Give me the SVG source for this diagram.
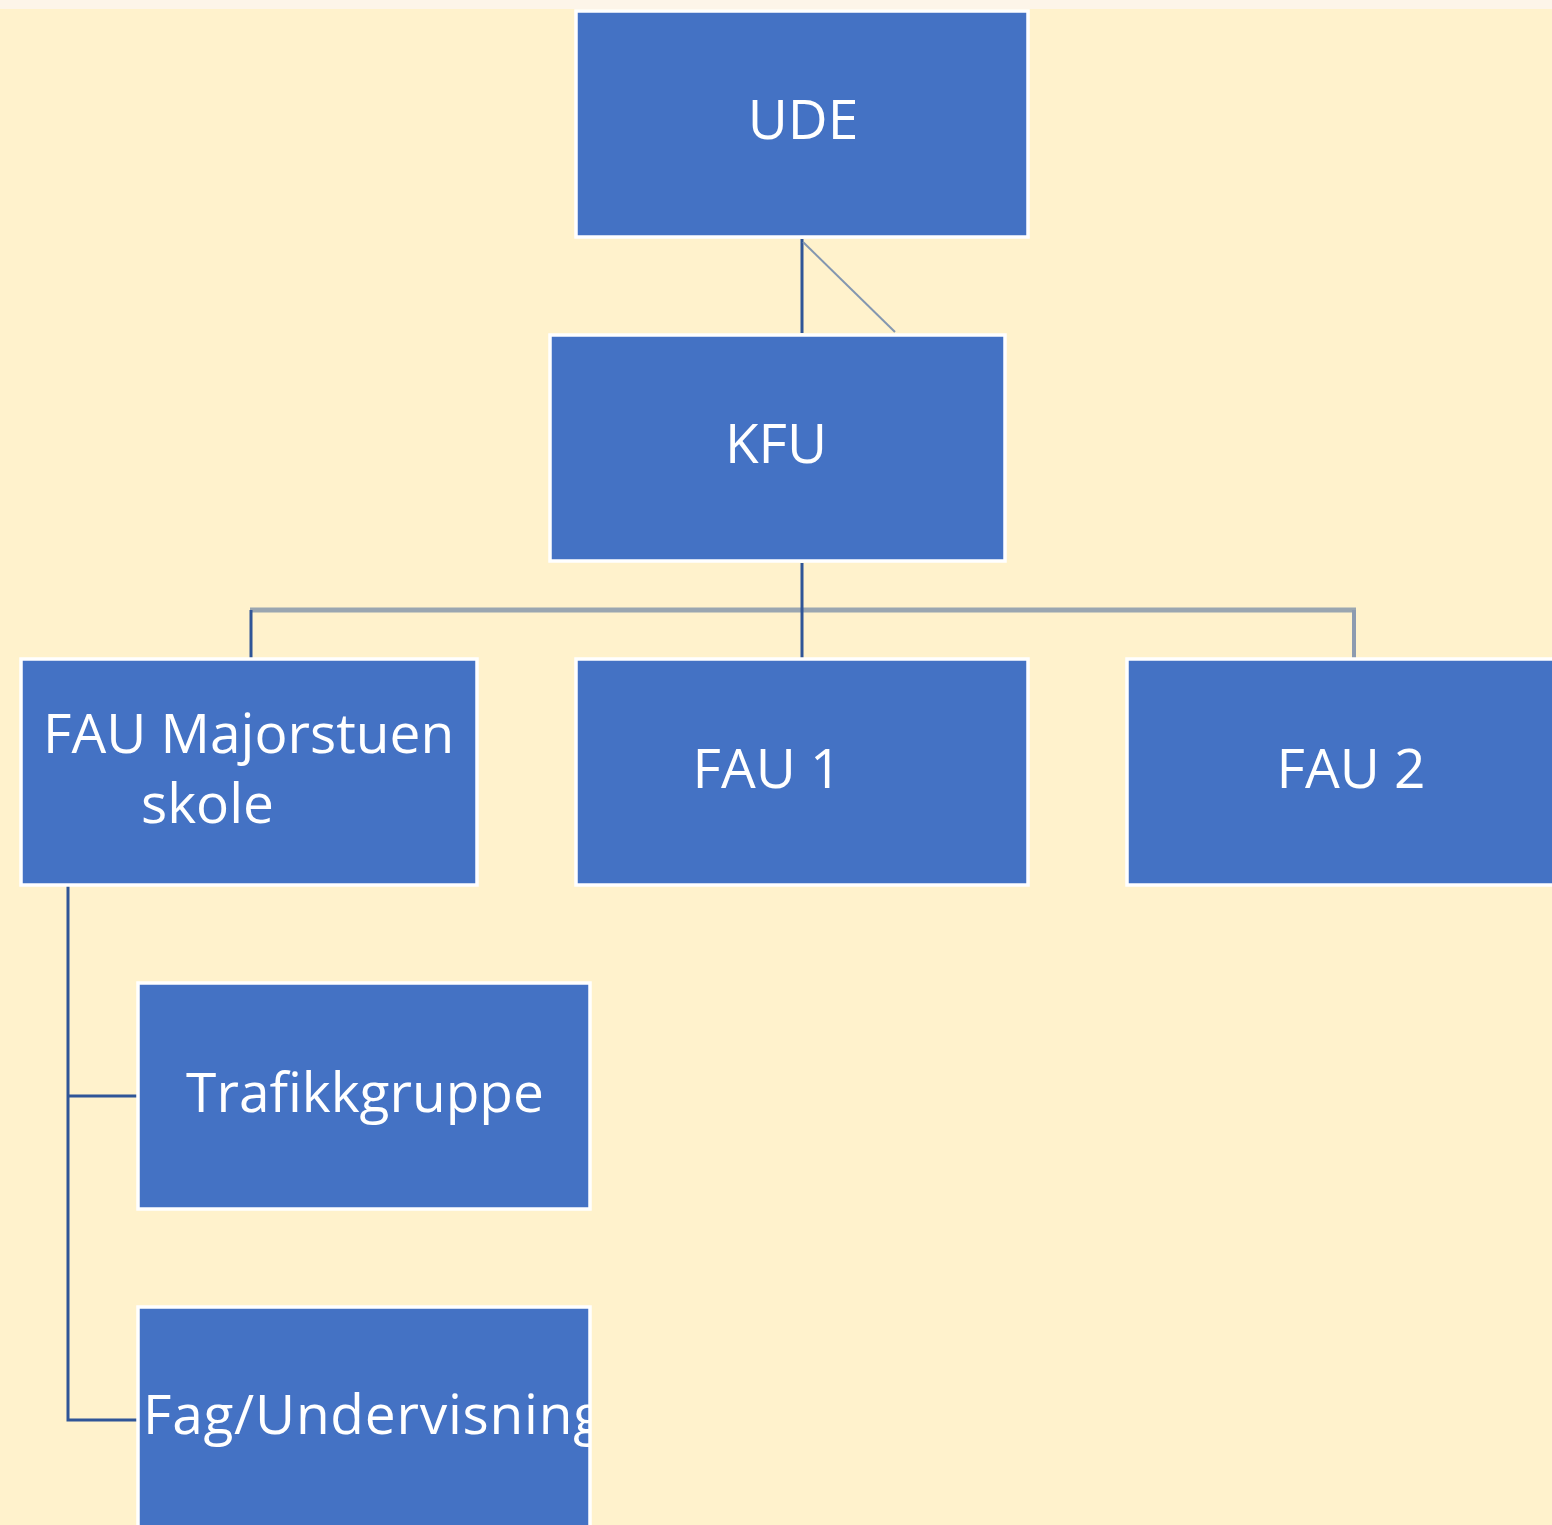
<svg xmlns="http://www.w3.org/2000/svg" width="1552" height="1525" viewBox="0 0 1552 1525">
<style>
.box{fill:#4472C4;stroke:#FFFFFF;stroke-width:3.5}
.lbl{font-family:"Open Sans","Noto Sans","Liberation Sans",sans-serif;font-size:55px;fill:#FFFFFF}
.mid{text-anchor:middle}
.dk{stroke:#2F5597;stroke-width:3;fill:none}
.gr{stroke:#9AA6B0;fill:none}
</style>
<defs>
<clipPath id="clipFag"><rect x="138" y="1308" width="452" height="230"/></clipPath>
</defs>
<rect x="0" y="0" width="1552" height="1525" fill="#FFF2CC"/>
<rect x="0" y="0" width="1552" height="9" fill="#FDF5E9"/>
<g id="connectors">
<line class="dk" x1="802" y1="239" x2="802" y2="333"/>
<line x1="803" y1="242" x2="895" y2="332" stroke="#8497B0" stroke-width="2"/>
<line class="gr" x1="250" y1="610" x2="1356" y2="610" stroke-width="5"/>
<line class="dk" x1="802" y1="563" x2="802" y2="658"/>
<line class="dk" x1="251" y1="610" x2="251" y2="658"/>
<line x1="1354" y1="610" x2="1354" y2="658" stroke="#8C9BB0" stroke-width="4"/>
<polyline class="dk" points="68,886 68,1420 137,1420" stroke="#3F66B0"/>
<line class="dk" x1="68" y1="1096" x2="137" y2="1096" stroke="#3F66B0"/>
</g>
<g id="node-ude">
<rect class="box" x="576" y="11" width="452" height="226"/>
<text class="lbl mid" x="803" y="139">UDE</text>
</g>
<g id="node-kfu">
<rect class="box" x="550" y="335" width="455" height="226"/>
<text class="lbl mid" x="776" y="463">KFU</text>
</g>
<g id="node-fau-majorstuen">
<rect class="box" x="21" y="659" width="456" height="226"/>
<text class="lbl" x="43" y="753">FAU Majorstuen</text>
<text class="lbl" x="141" y="823">skole</text>
</g>
<g id="node-fau1">
<rect class="box" x="576" y="659" width="452" height="226"/>
<text class="lbl mid" x="767" y="788">FAU 1</text>
</g>
<g id="node-fau2">
<rect class="box" x="1127" y="659" width="440" height="226"/>
<text class="lbl mid" x="1351" y="788">FAU 2</text>
</g>
<g id="node-trafikkgruppe">
<rect class="box" x="138" y="983" width="452" height="226"/>
<text class="lbl mid" x="365" y="1112">Trafikkgruppe</text>
</g>
<g id="node-fag">
<rect class="box" x="138" y="1307" width="452" height="240"/>
<text class="lbl" x="143" y="1434" textLength="460" lengthAdjust="spacing" clip-path="url(#clipFag)">Fag/Undervisning</text>
</g>
</svg>
